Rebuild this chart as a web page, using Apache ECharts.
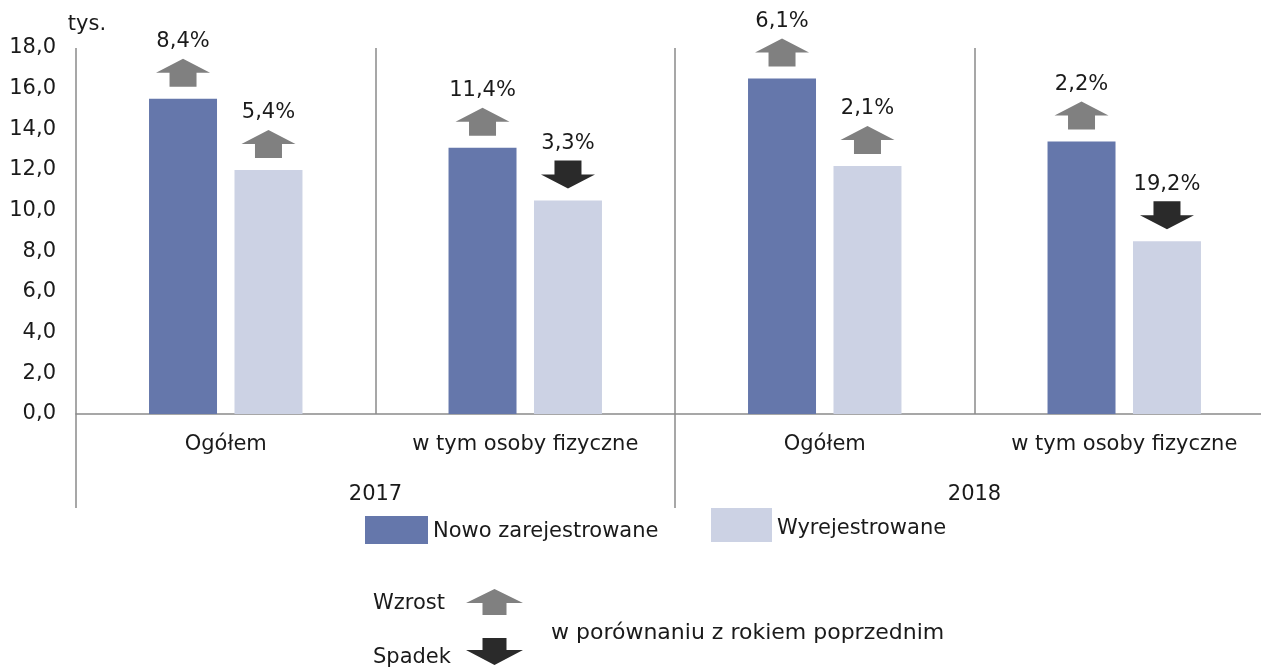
<!DOCTYPE html>
<html>
<head>
<meta charset="utf-8">
<script src="https://cdn.jsdelivr.net/npm/echarts@6/dist/echarts.min.js"></script>
<style>
html,body{margin:0;padding:0;background:#fff;}
#chart{width:1261px;height:670px;}
</style>
</head>
<body>
<div id="chart"></div>
<script>
// ---- data ----
const categories = ['Ogółem', 'w tym osoby fizyczne', 'Ogółem', 'w tym osoby fizyczne'];
const years = ['2017', '2018'];
const seriesNames = ['Nowo zarejestrowane', 'Wyrejestrowane'];
const nowoValues = [15.5, 13.1, 16.5, 13.4];
const wyrejValues = [12.0, 10.5, 12.2, 8.5];
const nowoChange = [8.4, 11.4, 6.1, 2.2];     // % change vs previous year
const wyrejChange = [5.4, -3.3, 2.1, -19.2];
const yTicks = { min: 0, max: 18, interval: 2 };
const unitLabel = 'tys.';
const noteUp = 'Wzrost';
const noteDown = 'Spadek';
const noteText = 'w porównaniu z rokiem poprzednim';

// ---- style ----
const FONT = '"DejaVu Sans", "Open Sans", sans-serif';
const FS = 21;
const TXT = '#1a1a1a';
const LINE = '#8a8a8a';
const C1 = '#6577ab';
const C2 = '#ccd2e4';
const UP = '#808080';
const DOWN = '#2a2a2a';
const BAR_W = 0.227;   // fraction of category width
const BAR_GAP = 0.257; // fraction of bar width

function fmt(v) { return Math.abs(v).toFixed(1).replace('.', ','); }

function arrowPoints(cx, top, dir, W, H, h, s) {
  if (dir > 0) {
    return [[cx, top], [cx + W / 2, top + h], [cx + s / 2, top + h], [cx + s / 2, top + H],
            [cx - s / 2, top + H], [cx - s / 2, top + h], [cx - W / 2, top + h]];
  }
  const b = top + H - h;
  return [[cx - s / 2, top], [cx + s / 2, top], [cx + s / 2, b], [cx + W / 2, b],
          [cx, top + H], [cx - W / 2, b], [cx - s / 2, b]];
}

const arrowData = [];
categories.forEach((c, i) => {
  arrowData.push([i, nowoValues[i], nowoChange[i], -1]);
  arrowData.push([i, wyrejValues[i], wyrejChange[i], 1]);
});

function legendText(padTop) {
  return {
    fontSize: FS, color: TXT, fontFamily: FONT,
    rich: { a: { fontSize: FS, color: TXT, fontFamily: FONT, padding: [padTop, 0, 0, 0] } }
  };
}

const chart = echarts.init(document.getElementById('chart'));
chart.setOption({
  animation: false,
  textStyle: { fontFamily: FONT },
  grid: { left: 76, top: 48, width: 1198, height: 366, containLabel: false, outerBoundsMode: 'none' },
  legend: [
    { data: [seriesNames[0]], left: 365, top: 516, itemWidth: 63, itemHeight: 28, icon: 'rect',
      selectedMode: false, padding: 0, formatter: '{a|{name}}', textStyle: legendText(4) },
    { data: [seriesNames[1]], left: 711, top: 508, itemWidth: 61, itemHeight: 34, icon: 'rect',
      selectedMode: false, padding: 0, formatter: '{a|{name}}', textStyle: legendText(8) }
  ],
  xAxis: [
    { type: 'category', data: categories, position: 'bottom',
      axisLine: { show: true, lineStyle: { color: LINE, width: 1.5 } },
      axisTick: { show: false },
      splitLine: { show: true, interval: 0, lineStyle: { color: LINE, width: 1.5 } },
      axisLabel: { interval: 0, margin: 20, fontSize: FS, color: TXT, fontFamily: FONT } },
    { type: 'category', data: years, position: 'bottom', gridIndex: 0,
      axisLine: { show: false },
      axisTick: { show: true, length: 94, lineStyle: { color: LINE, width: 1.5 } },
      axisLabel: { margin: 70, fontSize: FS, color: TXT, fontFamily: FONT } }
  ],
  yAxis: {
    type: 'value', min: yTicks.min, max: yTicks.max, interval: yTicks.interval,
    name: unitLabel, nameLocation: 'end', nameGap: 13,
    nameTextStyle: { fontSize: FS, color: TXT, fontFamily: FONT, padding: [0, 0, 0, 22] },
    axisLine: { show: false }, axisTick: { show: false }, splitLine: { show: false },
    axisLabel: { margin: 20, fontSize: FS, color: TXT, fontFamily: FONT, formatter: v => fmt(v) }
  },
  series: [
    { name: seriesNames[0], type: 'bar', data: nowoValues, barWidth: (BAR_W * 100) + '%',
      barGap: (BAR_GAP * 100) + '%', itemStyle: { color: C1 } },
    { name: seriesNames[1], type: 'bar', data: wyrejValues, barWidth: (BAR_W * 100) + '%',
      itemStyle: { color: C2 } },
    { type: 'custom', data: arrowData, clip: false, silent: true, z: 5,
      encode: { x: 0, y: 1 },
      renderItem: function (params, api) {
        const cat = api.value(0), val = api.value(1), pct = api.value(2), side = api.value(3);
        const p = api.coord([cat, val]);
        const catW = api.size([1, 0])[0];
        const bw = catW * BAR_W;
        const cx = p[0] + side * (bw + bw * BAR_GAP) / 2;
        const GAP = 12, H = 28;
        const top = p[1] - GAP - H;
        const dir = pct >= 0 ? 1 : -1;
        return {
          type: 'group',
          children: [
            { type: 'polygon', shape: { points: arrowPoints(cx, top, dir, 54, H, 14, 27) },
              style: { fill: dir > 0 ? UP : DOWN } },
            { type: 'text', style: { text: fmt(pct) + '%', x: cx, y: top - 17, align: 'center',
              verticalAlign: 'middle', fontSize: FS, fontFamily: FONT, fill: TXT } }
          ]
        };
      } }
  ],
  graphic: [
    { type: 'text', left: 373, top: 593, style: { text: noteUp, fontSize: FS, fontFamily: FONT, fill: TXT } },
    { type: 'text', left: 373, top: 647, style: { text: noteDown, fontSize: FS, fontFamily: FONT, fill: TXT } },
    { type: 'polygon', shape: { points: arrowPoints(494.5, 589, 1, 57, 26, 14, 24) }, style: { fill: UP } },
    { type: 'polygon', shape: { points: arrowPoints(494.5, 638, -1, 57, 27, 15, 24) }, style: { fill: DOWN } },
    { type: 'text', left: 551, top: 622, style: { text: noteText, fontSize: 22, fontFamily: FONT, fill: TXT } }
  ]
});
</script>
</body>
</html>
